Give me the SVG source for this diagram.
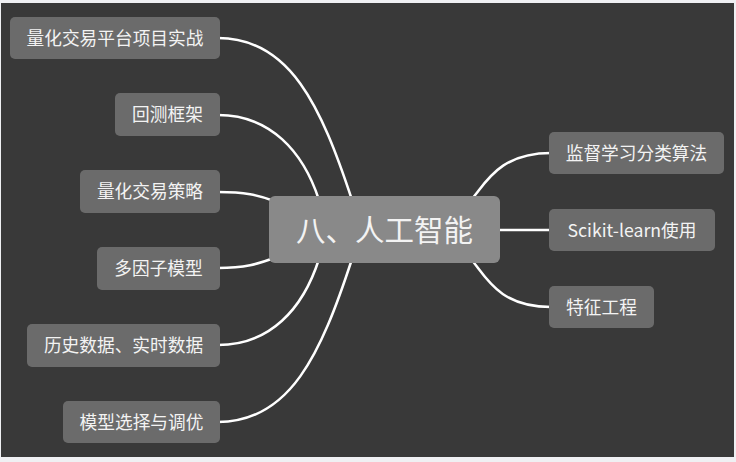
<svg xmlns="http://www.w3.org/2000/svg" width="736" height="462" viewBox="0 0 736 462">
<style>
.bg{fill:#393939}
.frame{fill:#eff0f3}
.node{fill:#6b6b6b}
.root{fill:#898989}
.t{fill:#f3f3f3;font-family:"Noto Sans CJK SC","Noto Sans",sans-serif;font-size:17.7px;text-anchor:middle}
.rt{fill:#f3f3f3;font-family:"Noto Sans CJK SC","Noto Sans",sans-serif;font-size:29.5px;text-anchor:middle}
.c{fill:none;stroke:#ffffff;stroke-width:2.5;stroke-linecap:round}
</style>
<rect class="frame" x="0" y="0" width="736" height="462"/>
<rect class="bg" x="1" y="3" width="733" height="454"/>
<g id="connectors">
<path class="c" d="M218,38 C290,38 321,106 352,200"/>
<path class="c" d="M218,115 C270,115 303,151 319,200"/>
<path class="c" d="M218,192 C245,192 258,195 274,201"/>
<path class="c" d="M218,268 C245,268 258,264 274,258"/>
<path class="c" d="M218,345 C270,345 303,309 319,259"/>
<path class="c" d="M218,422 C290,422 321,354 352,259"/>
<path class="c" d="M551,153 C499,153 486,183 471,200"/>
<path class="c" d="M498,230 L551,230"/>
<path class="c" d="M551,307 C499,307 486,277 471,259"/>
</g>
<g id="root">
<rect class="root" x="269" y="196" width="231" height="67" rx="6"/>
<text class="rt" x="384.5" y="240.5">八、人工智能</text>
</g>
<g id="n1">
<rect class="node" x="10" y="17" width="210" height="42" rx="5"/>
<text class="t" x="115" y="44.5">量化交易平台项目实战</text>
</g>
<g id="n2">
<rect class="node" x="115" y="93" width="105" height="43" rx="5"/>
<text class="t" x="167.5" y="121">回测框架</text>
</g>
<g id="n3">
<rect class="node" x="80" y="170" width="140" height="43" rx="5"/>
<text class="t" x="150" y="198">量化交易策略</text>
</g>
<g id="n4">
<rect class="node" x="97" y="247" width="123" height="43" rx="5"/>
<text class="t" x="158.5" y="275">多因子模型</text>
</g>
<g id="n5">
<rect class="node" x="27" y="324" width="193" height="43" rx="5"/>
<text class="t" x="123.5" y="352">历史数据、实时数据</text>
</g>
<g id="n6">
<rect class="node" x="63" y="401" width="157" height="42" rx="5"/>
<text class="t" x="141.5" y="428.5">模型选择与调优</text>
</g>
<g id="r1">
<rect class="node" x="549" y="132" width="175" height="42" rx="5"/>
<text class="t" x="636.5" y="159.5">监督学习分类算法</text>
</g>
<g id="r2">
<rect class="node" x="549" y="209" width="166" height="42" rx="5"/>
<text class="t" x="632" y="236.5">Scikit-learn使用</text>
</g>
<g id="r3">
<rect class="node" x="549" y="286" width="105" height="42" rx="5"/>
<text class="t" x="601.5" y="313.5">特征工程</text>
</g>
</svg>
